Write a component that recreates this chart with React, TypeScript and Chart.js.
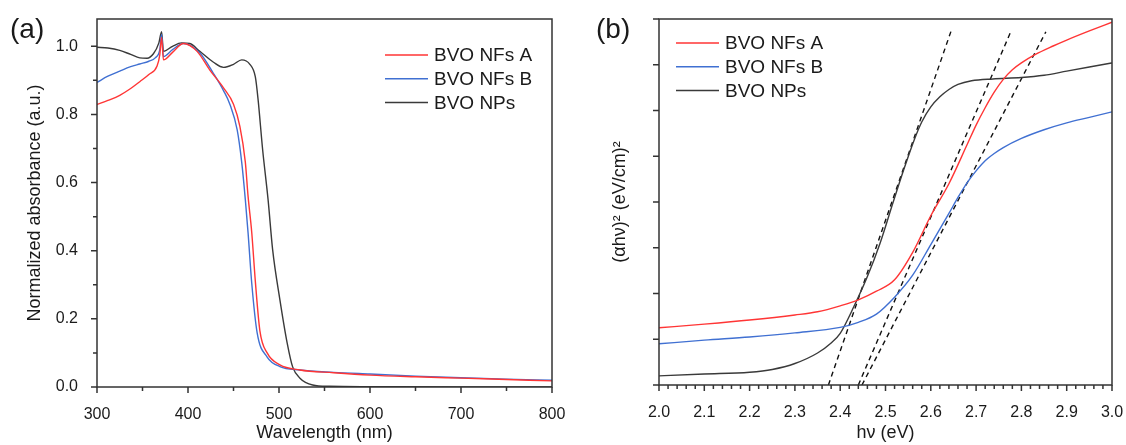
import React, { useEffect, useRef } from "react";
import { Chart, registerables } from "chart.js";

Chart.register(...registerables);

const FONT = "'Liberation Sans', Arial, Helvetica, sans-serif";
const AXIS_COLOR = "#333333";
const TEXT_COLOR = "#1a1a1a";

const seriesLabels = ["BVO NFs A", "BVO NFs B", "BVO NPs"];
const seriesColors = ["#ff3535", "#4070d2", "#3a3a3a"];

// ---- Panel (a): normalized absorbance vs wavelength ----
const wlNFsA = [300, 312, 325, 337, 347, 357, 366, 369, 371, 373, 383, 395, 410, 424, 439, 450, 457, 463, 466, 470, 474, 479, 487, 501, 523, 560, 600, 650, 700, 750, 800];
const absNFsA = [0.829, 0.841, 0.856, 0.876, 0.896, 0.917, 0.942, 0.975, 1.026, 0.96, 0.982, 1.008, 0.985, 0.93, 0.878, 0.83, 0.765, 0.66, 0.56, 0.455, 0.31, 0.165, 0.1, 0.065, 0.05, 0.042, 0.035, 0.03, 0.026, 0.022, 0.018];

const wlNFsB = [300, 312, 325, 337, 347, 357, 364, 369, 371, 373, 383, 395, 413, 428, 439, 446, 454, 459, 463, 466, 470, 476, 487, 501, 523, 560, 600, 650, 700, 750, 800];
const absNFsB = [0.894, 0.912, 0.927, 0.94, 0.948, 0.956, 0.966, 0.99, 1.035, 0.97, 0.99, 1.008, 0.98, 0.92, 0.87, 0.83, 0.755, 0.66, 0.55, 0.453, 0.306, 0.159, 0.088, 0.06, 0.05, 0.043, 0.038, 0.032, 0.027, 0.023, 0.02];

const wlNPs = [300, 312, 325, 337, 347, 355, 362, 368, 371, 373, 383, 393, 402, 413, 428, 439, 450, 459, 468, 474, 477, 482, 488, 493, 501, 509, 515, 523, 537, 555, 600, 700, 800];
const absNPs = [0.997, 0.995, 0.988, 0.976, 0.966, 0.965, 0.978, 1.01, 1.043, 0.985, 1.0, 1.01, 1.008, 0.985, 0.953, 0.938, 0.947, 0.96, 0.947, 0.91, 0.844, 0.697, 0.55, 0.403, 0.256, 0.129, 0.059, 0.026, 0.006, 0.002, 0.001, 0.0, 0.0];

// ---- Panel (b): Tauc plot ----
const evNFsA = [2.0, 2.1, 2.2, 2.3, 2.35, 2.4, 2.44, 2.48, 2.52, 2.56, 2.6, 2.64, 2.68, 2.7, 2.72, 2.74, 2.76, 2.78, 2.8, 2.83, 2.87, 2.9, 2.95, 3.0];
const taucNFsA = [1.25, 1.33, 1.42, 1.53, 1.6, 1.73, 1.86, 2.05, 2.3, 2.9, 3.7, 4.4, 5.25, 5.68, 6.06, 6.4, 6.68, 6.89, 7.04, 7.22, 7.41, 7.54, 7.74, 7.93];

const evNFsB = [2.0, 2.1, 2.2, 2.3, 2.4, 2.44, 2.48, 2.52, 2.56, 2.6, 2.64, 2.66, 2.68, 2.7, 2.72, 2.74, 2.76, 2.8, 2.85, 2.9, 2.95, 3.0];
const taucNFsB = [0.9, 0.98, 1.05, 1.14, 1.26, 1.37, 1.55, 1.92, 2.4, 3.07, 3.75, 4.1, 4.42, 4.68, 4.9, 5.06, 5.19, 5.39, 5.58, 5.73, 5.85, 5.97];

const evNPs = [2.0, 2.1, 2.2, 2.25, 2.3, 2.35, 2.38, 2.4, 2.43, 2.46, 2.488, 2.517, 2.54, 2.565, 2.58, 2.6, 2.62, 2.64, 2.66, 2.69, 2.737, 2.8, 2.85, 2.9, 2.95, 3.0];
const taucNPs = [0.2, 0.24, 0.28, 0.34, 0.47, 0.7, 0.92, 1.13, 1.71, 2.37, 3.1, 4.0, 4.7, 5.4, 5.75, 6.08, 6.3, 6.46, 6.57, 6.65, 6.69, 6.72, 6.77, 6.86, 6.95, 7.04];

const tangentNPsX = [2.374, 2.647];
const tangentNPsY = [0, 7.8];
const tangentNFsAX = [2.44, 2.776];
const tangentNFsAY = [0, 7.71];
const tangentNFsBX = [2.448, 2.854];
const tangentNFsBY = [0, 7.72];

const pts = (xs: number[], ys: number[]) => xs.map((x, i) => ({ x, y: ys[i] }));

type Spec = {
  panel: string;
  panelX: number;
  legendX: number;
  legendY: number;
  xMin: number; xMax: number; xStep: number; xMinor: number; xMajorEvery: number;
  yMin: number; yMax: number; yStep: number; yMinor: number; yMajorEvery: number;
  yMinorLen: number;
  yAxisWidth: number;
  xAxisHeight: number;
  padRight: number;
  xTitle: string;
  yTitle: string;
  yTitlePad: number;
  showYLabels: boolean;
  xFmt: (v: number) => string;
  yFmt: (v: number) => string;
};

function decoPlugin(spec: Spec) {
  return {
    id: "deco",
    afterDraw(chart: any) {
      const ctx = chart.ctx as CanvasRenderingContext2D;
      const { left, right, top, bottom } = chart.chartArea;
      const xs = chart.scales.x;
      const ys = chart.scales.y;
      ctx.save();
      ctx.strokeStyle = AXIS_COLOR;
      ctx.lineWidth = 1.5;
      ctx.strokeRect(left, top, right - left, bottom - top);
      // x ticks (outward)
      const nx = Math.round((spec.xMax - spec.xMin) / spec.xMinor);
      ctx.beginPath();
      for (let i = 0; i <= nx; i++) {
        const v = spec.xMin + i * spec.xMinor;
        const px = xs.getPixelForValue(v);
        const len = i % spec.xMajorEvery === 0 ? 6 : 4;
        ctx.moveTo(px, bottom);
        ctx.lineTo(px, bottom + len);
      }
      // y ticks (outward)
      const ny = Math.round((spec.yMax - spec.yMin) / spec.yMinor);
      for (let i = 0; i <= ny; i++) {
        const v = spec.yMin + i * spec.yMinor;
        if (v > spec.yMax + 1e-9) break;
        const py = ys.getPixelForValue(v);
        const len = i % spec.yMajorEvery === 0 ? 6 : spec.yMinorLen;
        ctx.moveTo(left, py);
        ctx.lineTo(left - len, py);
      }
      ctx.stroke();

      // panel label
      ctx.fillStyle = TEXT_COLOR;
      ctx.font = `28px ${FONT}`;
      ctx.textBaseline = "middle";
      ctx.textAlign = "left";
      ctx.fillText(spec.panel, spec.panelX, 30);

      // legend
      ctx.font = `19px ${FONT}`;
      for (let i = 0; i < 3; i++) {
        const ds = chart.data.datasets[i];
        const y = spec.legendY + i * 23.8;
        ctx.strokeStyle = ds.borderColor;
        ctx.lineWidth = 1.5;
        ctx.beginPath();
        ctx.moveTo(spec.legendX, y);
        ctx.lineTo(spec.legendX + 43, y);
        ctx.stroke();
        ctx.fillStyle = TEXT_COLOR;
        ctx.fillText(ds.label, spec.legendX + 49, y + 1);
      }
      ctx.restore();
    },
  };
}

function buildChart(canvas: HTMLCanvasElement, spec: Spec, datasets: any[]) {
  const isMultiple = (v: number, step: number) => Math.abs(v / step - Math.round(v / step)) < 1e-6;
  return new Chart(canvas, {
    type: "line",
    data: { datasets },
    options: {
      responsive: false,
      maintainAspectRatio: false,
      animation: false,
      layout: { padding: { left: 0, top: 19, right: spec.padRight, bottom: 0 } },
      plugins: { legend: { display: false }, tooltip: { enabled: false } },
      elements: { point: { radius: 0 } },
      scales: {
        x: {
          type: "linear",
          min: spec.xMin,
          max: spec.xMax,
          grid: { display: false },
          border: { display: false },
          ticks: {
            stepSize: spec.xStep,
            padding: 10,
            color: TEXT_COLOR,
            font: { family: FONT, size: 16 },
            maxRotation: 0,
            autoSkip: false,
            callback: (v: any) => spec.xFmt(Number(v)),
          },
          afterBuildTicks: (s: any) => {
            s.ticks = s.ticks.filter((t: any) => isMultiple(t.value - spec.xMin, spec.xStep));
          },
          title: {
            display: true,
            text: spec.xTitle,
            color: TEXT_COLOR,
            font: { family: FONT, size: 18 },
            padding: { top: 0, bottom: 1 },
          },
          afterFit: (s: any) => {
            s.height = spec.xAxisHeight;
            s.paddingLeft = 0;
            s.paddingRight = 0;
          },
        },
        y: {
          type: "linear",
          min: spec.yMin,
          max: spec.yMax,
          grid: { display: false },
          border: { display: false },
          ticks: {
            display: spec.showYLabels,
            stepSize: spec.yStep,
            padding: 11,
            color: TEXT_COLOR,
            font: { family: FONT, size: 16 },
            callback: (v: any) => spec.yFmt(Number(v)),
          },
          afterBuildTicks: (s: any) => {
            s.ticks = s.ticks.filter((t: any) => isMultiple(t.value, spec.yStep));
          },
          title: {
            display: true,
            text: spec.yTitle,
            color: TEXT_COLOR,
            font: { family: FONT, size: 18 },
            padding: { top: spec.yTitlePad, bottom: 0 },
          },
          afterFit: (s: any) => {
            s.width = spec.yAxisWidth;
            s.paddingTop = 0;
            s.paddingBottom = 0;
          },
        },
      },
    },
    plugins: [decoPlugin(spec)],
  } as any);
}

const curve = (label: string, color: string, xs: number[], ys: number[]) => ({
  label,
  data: pts(xs, ys),
  borderColor: color,
  backgroundColor: color,
  borderWidth: 1.4,
  cubicInterpolationMode: "monotone",
  pointRadius: 0,
  fill: false,
});

const dashed = (label: string, xs: number[], ys: number[]) => ({
  label,
  data: pts(xs, ys),
  borderColor: "#111111",
  borderWidth: 1.4,
  borderDash: [5, 4],
  tension: 0,
  pointRadius: 0,
  fill: false,
});

export default function App() {
  const refA = useRef<HTMLCanvasElement>(null);
  const refB = useRef<HTMLCanvasElement>(null);

  useEffect(() => {
    const specA: Spec = {
      panel: "(a)",
      panelX: 10,
      legendX: 385,
      legendY: 55,
      xMin: 300, xMax: 800, xStep: 100, xMinor: 50, xMajorEvery: 2,
      yMin: 0, yMax: 1.08, yStep: 0.2, yMinor: 0.1, yMajorEvery: 2,
      yMinorLen: 4,
      yAxisWidth: 97,
      xAxisHeight: 58,
      padRight: 28,
      xTitle: "Wavelength (nm)",
      yTitle: "Normalized absorbance (a.u.)",
      yTitlePad: 24,
      showYLabels: true,
      xFmt: (v) => String(Math.round(v)),
      yFmt: (v) => v.toFixed(1),
    };
    const specB: Spec = {
      panel: "(b)",
      panelX: 33,
      legendX: 113,
      legendY: 43,
      xMin: 2.0, xMax: 3.0, xStep: 0.1, xMinor: 0.02, xMajorEvery: 5,
      yMin: 0, yMax: 8, yStep: 1, yMinor: 1, yMajorEvery: 1,
      yMinorLen: 6,
      yAxisWidth: 96,
      xAxisHeight: 60,
      padRight: 14,
      xTitle: "hν (eV)",
      yTitle: "(αhν)² (eV/cm)²",
      yTitlePad: 46,
      showYLabels: false,
      xFmt: (v) => v.toFixed(1),
      yFmt: (v) => String(v),
    };
    const chartA = buildChart(refA.current!, specA, [
      curve(seriesLabels[0], seriesColors[0], wlNFsA, absNFsA),
      curve(seriesLabels[1], seriesColors[1], wlNFsB, absNFsB),
      curve(seriesLabels[2], seriesColors[2], wlNPs, absNPs),
    ]);
    const chartB = buildChart(refB.current!, specB, [
      curve(seriesLabels[0], seriesColors[0], evNFsA, taucNFsA),
      curve(seriesLabels[1], seriesColors[1], evNFsB, taucNFsB),
      curve(seriesLabels[2], seriesColors[2], evNPs, taucNPs),
      dashed("tangent NPs", tangentNPsX, tangentNPsY),
      dashed("tangent NFs A", tangentNFsAX, tangentNFsAY),
      dashed("tangent NFs B", tangentNFsBX, tangentNFsBY),
    ]);
    return () => {
      chartA.destroy();
      chartB.destroy();
    };
  }, []);

  return (
    <div style={{ position: "absolute", left: 0, top: 0, width: 1126, height: 445, background: "#ffffff" }}>
      <canvas ref={refA} width={580} height={445} style={{ position: "absolute", left: 0, top: 0 }} />
      <canvas ref={refB} width={563} height={445} style={{ position: "absolute", left: 563, top: 0 }} />
    </div>
  );
}
